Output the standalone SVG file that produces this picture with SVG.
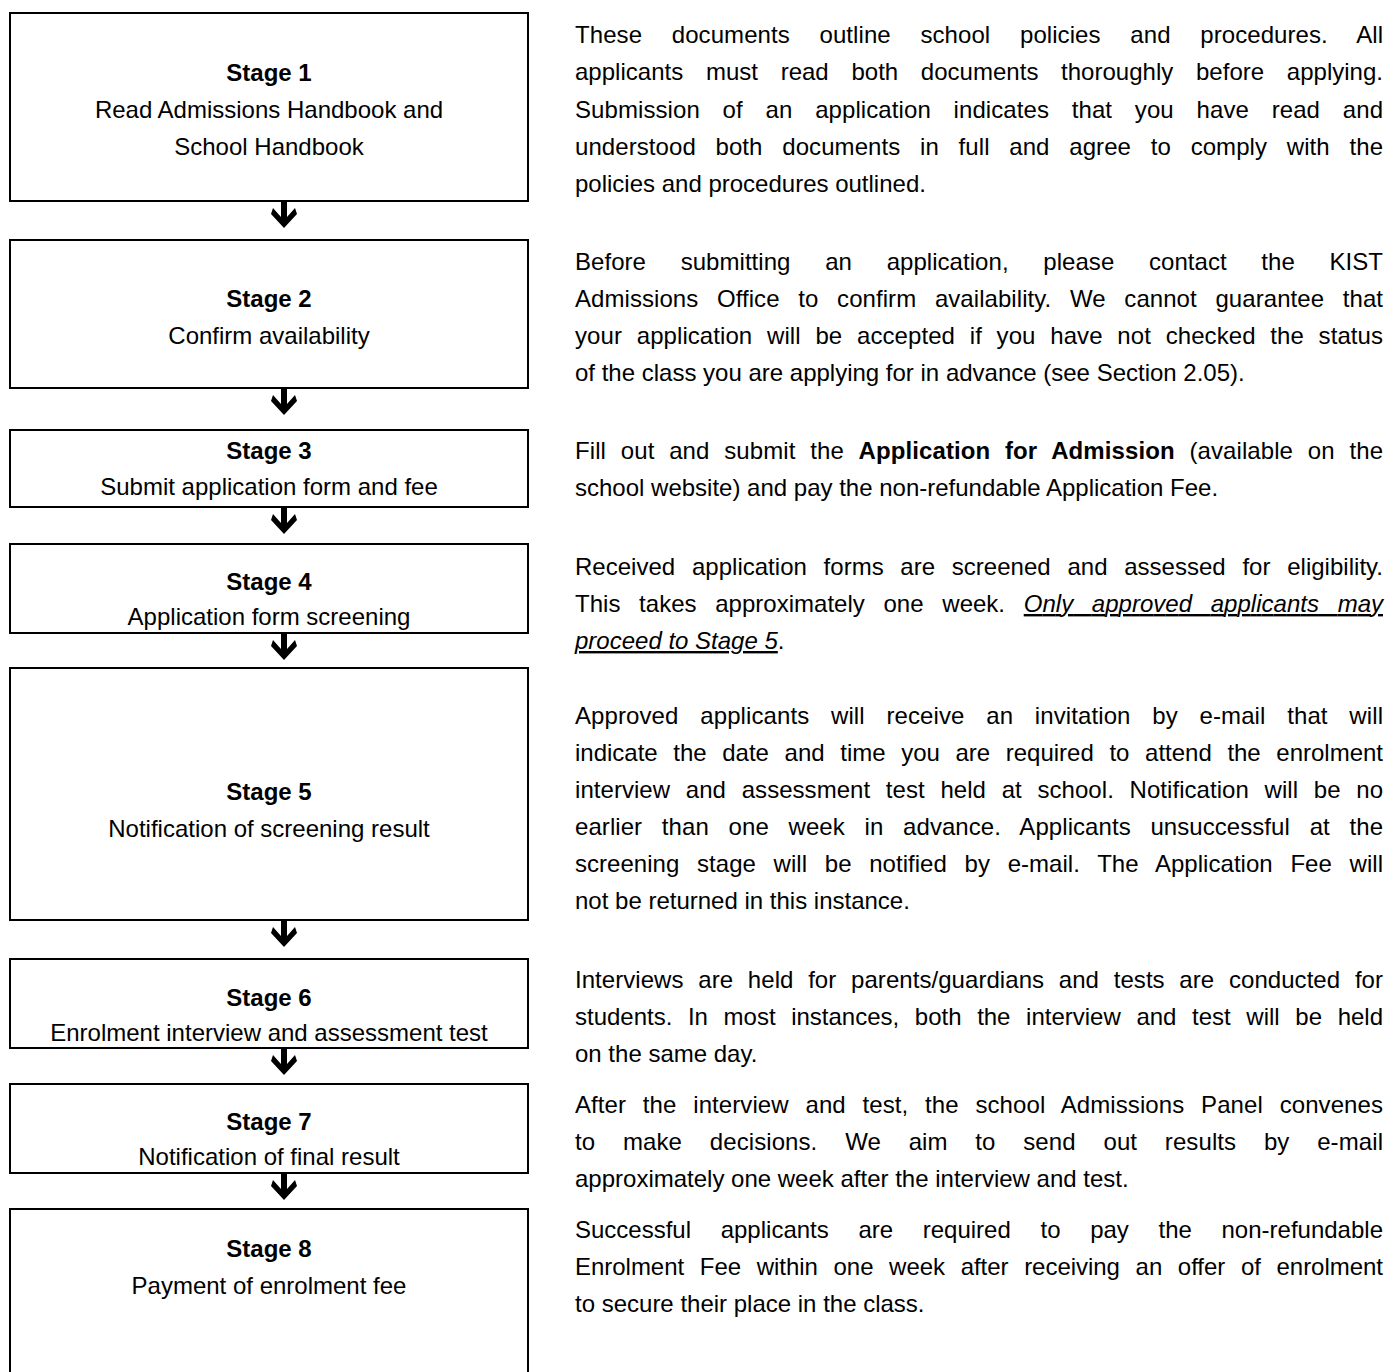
<svg xmlns="http://www.w3.org/2000/svg" width="1387" height="1372" viewBox="0 0 1387 1372">
<style>
.box{fill:#fff;stroke:#000;stroke-width:2}
.t{font-family:"Liberation Sans",Arial,Helvetica,sans-serif;font-size:24px;fill:#000}
.c{text-anchor:middle}
.b{font-weight:bold}
.iu{font-style:italic;text-decoration:underline}
.arrow{fill:#000}
</style>
<defs>
<polygon id="arr" class="arrow" points="-3,0 3,0 3,16 11,7 13,13 0,27 -13,13 -11,7 -3,16"/>
</defs>
<rect width="1387" height="1372" fill="#fff"/>
<g id="connectors">
<use href="#arr" x="284" y="201"/>
<use href="#arr" x="284" y="388"/>
<use href="#arr" x="284" y="507"/>
<use href="#arr" x="284" y="633"/>
<use href="#arr" x="284" y="920"/>
<use href="#arr" x="284" y="1048"/>
<use href="#arr" x="284" y="1173"/>
</g>
<g id="stage1">
<rect class="box" x="10" y="13" width="518" height="188"/>
<text class="t c b" x="269" y="81">Stage 1</text>
<text class="t c" x="269" y="118">Read Admissions Handbook and</text>
<text class="t c" x="269" y="155">School Handbook</text>
</g>
<g id="stage2">
<rect class="box" x="10" y="240" width="518" height="148"/>
<text class="t c b" x="269" y="307">Stage 2</text>
<text class="t c" x="269" y="344">Confirm availability</text>
</g>
<g id="stage3">
<rect class="box" x="10" y="430" width="518" height="77"/>
<text class="t c b" x="269" y="459">Stage 3</text>
<text class="t c" x="269" y="495">Submit application form and fee</text>
</g>
<g id="stage4">
<rect class="box" x="10" y="544" width="518" height="89"/>
<text class="t c b" x="269" y="590">Stage 4</text>
<text class="t c" x="269" y="625">Application form screening</text>
</g>
<g id="stage5">
<rect class="box" x="10" y="668" width="518" height="252"/>
<text class="t c b" x="269" y="800">Stage 5</text>
<text class="t c" x="269" y="837">Notification of screening result</text>
</g>
<g id="stage6">
<rect class="box" x="10" y="959" width="518" height="89"/>
<text class="t c b" x="269" y="1006">Stage 6</text>
<text class="t c" x="269" y="1041">Enrolment interview and assessment test</text>
</g>
<g id="stage7">
<rect class="box" x="10" y="1084" width="518" height="89"/>
<text class="t c b" x="269" y="1130">Stage 7</text>
<text class="t c" x="269" y="1165">Notification of final result</text>
</g>
<g id="stage8">
<rect class="box" x="10" y="1209" width="518" height="181"/>
<text class="t c b" x="269" y="1257">Stage 8</text>
<text class="t c" x="269" y="1294">Payment of enrolment fee</text>
</g>
<g id="descriptions">
<text class="t" x="575" y="43" textLength="808" lengthAdjust="spacing" word-spacing="23">These documents outline school policies and procedures. All</text>
<text class="t" x="575" y="80" textLength="808" lengthAdjust="spacing" word-spacing="16">applicants must read both documents thoroughly before applying.</text>
<text class="t" x="575" y="118" textLength="808" lengthAdjust="spacing" word-spacing="16">Submission of an application indicates that you have read and</text>
<text class="t" x="575" y="155" textLength="808" lengthAdjust="spacing" word-spacing="13">understood both documents in full and agree to comply with the</text>
<text class="t" x="575" y="192">policies and procedures outlined.</text>

<text class="t" x="575" y="270" textLength="808" lengthAdjust="spacing" word-spacing="28">Before submitting an application, please contact the KIST</text>
<text class="t" x="575" y="307" textLength="808" lengthAdjust="spacing" word-spacing="12">Admissions Office to confirm availability. We cannot guarantee that</text>
<text class="t" x="575" y="344" textLength="808" lengthAdjust="spacing" word-spacing="8">your application will be accepted if you have not checked the status</text>
<text class="t" x="575" y="381">of the class you are applying for in advance (see Section 2.05).</text>

<text class="t" x="575" y="459" textLength="808" lengthAdjust="spacing" word-spacing="8">Fill out and submit the <tspan class="b">Application for Admission</tspan> (available on the</text>
<text class="t" x="575" y="496">school website) and pay the non-refundable Application Fee.</text>

<text class="t" x="575" y="575" textLength="808" lengthAdjust="spacing" word-spacing="10">Received application forms are screened and assessed for eligibility.</text>
<text class="t" x="575" y="612" textLength="808" lengthAdjust="spacing" word-spacing="12">This takes approximately one week. <tspan class="iu">Only approved applicants may</tspan></text>
<text class="t" x="575" y="649"><tspan class="iu">proceed to Stage 5</tspan>.</text>

<text class="t" x="575" y="724" textLength="808" lengthAdjust="spacing" word-spacing="15">Approved applicants will receive an invitation by e-mail that will</text>
<text class="t" x="575" y="761" textLength="808" lengthAdjust="spacing" word-spacing="9">indicate the date and time you are required to attend the enrolment</text>
<text class="t" x="575" y="798" textLength="808" lengthAdjust="spacing" word-spacing="9">interview and assessment test held at school. Notification will be no</text>
<text class="t" x="575" y="835" textLength="808" lengthAdjust="spacing" word-spacing="13">earlier than one week in advance. Applicants unsuccessful at the</text>
<text class="t" x="575" y="872" textLength="808" lengthAdjust="spacing" word-spacing="11">screening stage will be notified by e-mail. The Application Fee will</text>
<text class="t" x="575" y="909">not be returned in this instance.</text>

<text class="t" x="575" y="988" textLength="808" lengthAdjust="spacing" word-spacing="8">Interviews are held for parents/guardians and tests are conducted for</text>
<text class="t" x="575" y="1025" textLength="808" lengthAdjust="spacing" word-spacing="9">students. In most instances, both the interview and test will be held</text>
<text class="t" x="575" y="1062">on the same day.</text>

<text class="t" x="575" y="1113" textLength="808" lengthAdjust="spacing" word-spacing="10">After the interview and test, the school Admissions Panel convenes</text>
<text class="t" x="575" y="1150" textLength="808" lengthAdjust="spacing" word-spacing="21">to make decisions. We aim to send out results by e-mail</text>
<text class="t" x="575" y="1187">approximately one week after the interview and test.</text>

<text class="t" x="575" y="1238" textLength="808" lengthAdjust="spacing" word-spacing="23">Successful applicants are required to pay the non-refundable</text>
<text class="t" x="575" y="1275" textLength="808" lengthAdjust="spacing" word-spacing="9">Enrolment Fee within one week after receiving an offer of enrolment</text>
<text class="t" x="575" y="1312">to secure their place in the class.</text>
</g>
</svg>
